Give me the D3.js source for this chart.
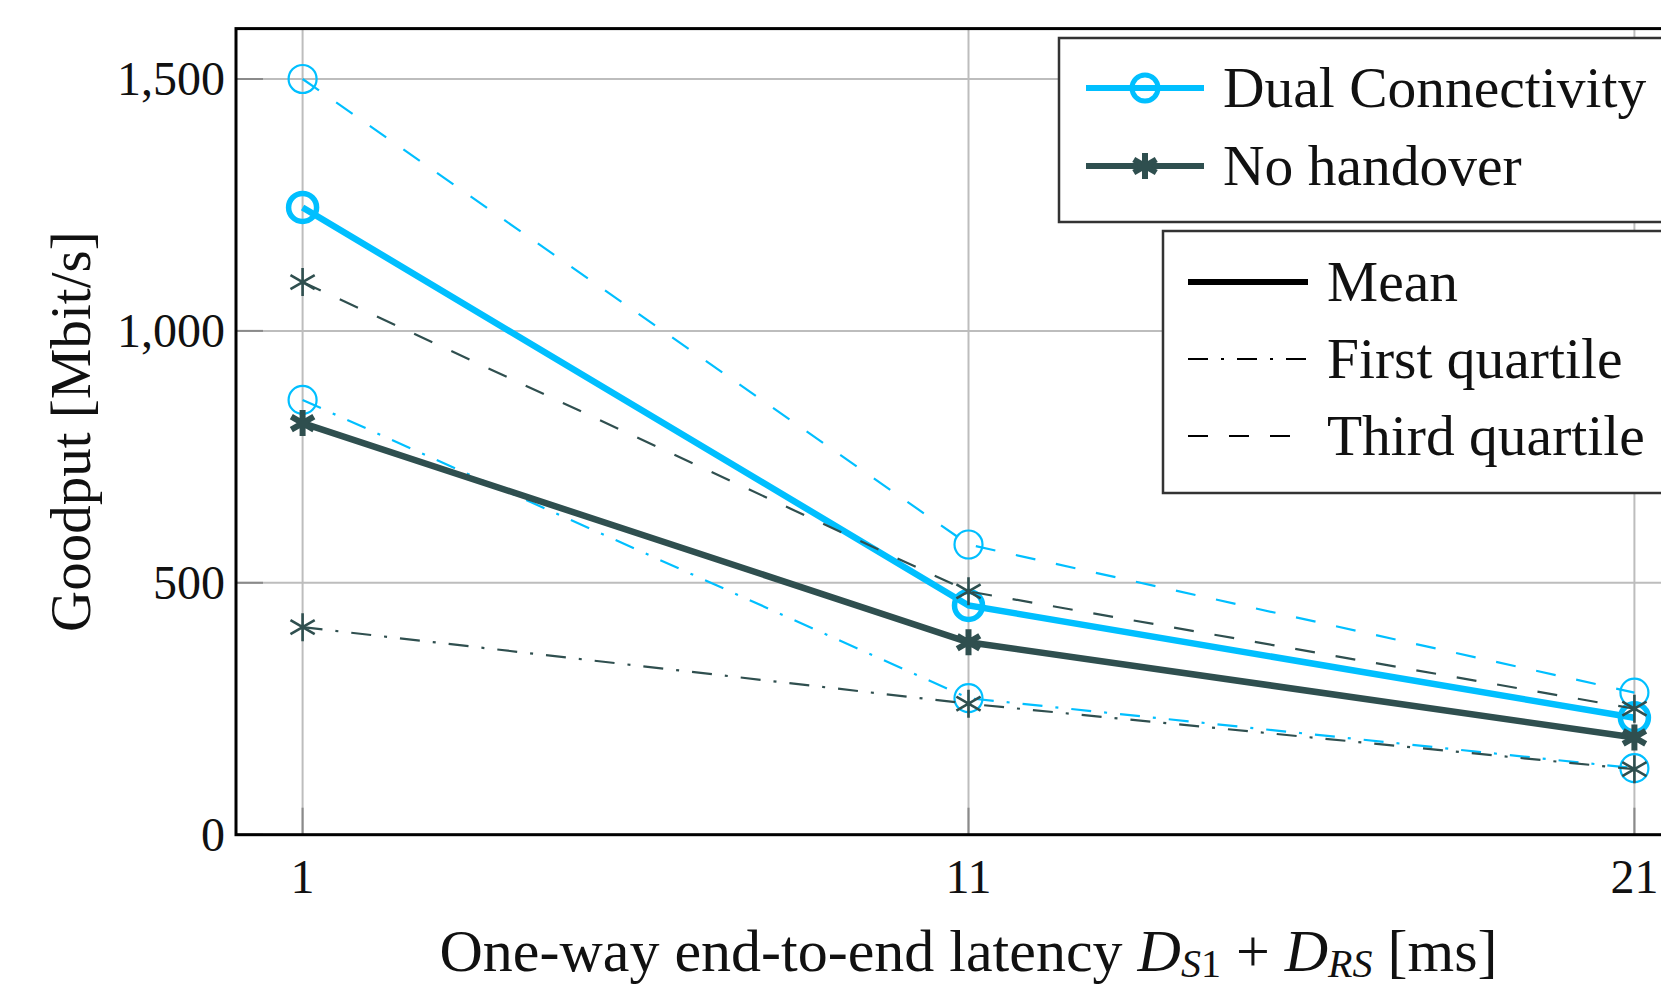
<!DOCTYPE html>
<html>
<head>
<meta charset="utf-8">
<script src="https://cdn.jsdelivr.net/npm/d3@7"></script>
<style>
  body { margin: 0; background: #fff; }
  svg { display: block; }
  text { font-family: "Liberation Serif", "DejaVu Serif", serif; fill: #111; }
</style>
</head>
<body>
<svg id="chart" width="1661" height="990"></svg>
<script>
// data
const latency = [1, 11, 21];
const dcMean = [1245, 455, 232];
const dcQ1 = [863, 271, 132];
const dcQ3 = [1500, 576, 282];
const nhMean = [817, 382, 193];
const nhQ1 = [412, 260, 130];
const nhQ3 = [1097, 483, 250];
const yTicks = [0, 500, 1000, 1500];
const xTicks = [1, 11, 21];

const cyan = "#00BFFF", slate = "#2F4F4F";

const svg = d3.select("#chart");

var x = d3.scaleLinear().domain([0, 22]).range([236, 1701]);
var y = d3.scaleLinear().domain([0, 1600]).range([834.7, 28.6]);

// grid
svg.append("g").selectAll("line")
    .data(xTicks).enter().append("line")
    .attr("x1", d => x(d)).attr("x2", d => x(d))
    .attr("y1", y(0)).attr("y2", y(1600))
    .attr("stroke", "#bdbdbd").attr("stroke-width", 2);
svg.append("g").selectAll("line")
    .data(yTicks).enter().append("line")
    .attr("x1", x(0)).attr("x2", x(22))
    .attr("y1", d => y(d)).attr("y2", d => y(d))
    .attr("stroke", "#bdbdbd").attr("stroke-width", 2);

// inner tick marks
svg.append("g").selectAll("line")
    .data(yTicks).enter().append("line")
    .attr("x1", x(0)).attr("x2", x(0) + 27)
    .attr("y1", d => y(d)).attr("y2", d => y(d))
    .attr("stroke", "#8a8a8a").attr("stroke-width", 2);
svg.append("g").selectAll("line")
    .data(xTicks).enter().append("line")
    .attr("x1", d => x(d)).attr("x2", d => x(d))
    .attr("y1", y(0)).attr("y2", y(0) - 27)
    .attr("stroke", "#8a8a8a").attr("stroke-width", 2);

// tick labels
svg.append("g").selectAll("text")
    .data(yTicks).enter().append("text")
    .attr("x", x(0) - 11).attr("y", d => y(d) + 16)
    .attr("text-anchor", "end")
    .style("font-size", "48px")
    .text(d3.format(","));
svg.append("g").selectAll("text")
    .data(xTicks).enter().append("text")
    .attr("x", d => x(d)).attr("y", y(0) + 58)
    .attr("text-anchor", "middle")
    .style("font-size", "48px")
    .text(d => d);

// frame
svg.append("rect")
    .attr("x", x(0)).attr("y", y(1600))
    .attr("width", x(22) - x(0)).attr("height", y(0) - y(1600))
    .attr("fill", "none").attr("stroke", "#000").attr("stroke-width", 3);

// marker shapes
function asterisk(r) {
    var c = r * Math.cos(Math.PI / 6), s = r * Math.sin(Math.PI / 6);
    return `M0,${-r}L0,${r}M${-c},${-s}L${c},${s}M${-c},${s}L${c},${-s}`;
}

var line = d3.line().x((d, i) => x(latency[i])).y(d => y(d));

var series = [
    { vals: dcMean, color: cyan, w: 6.5, dash: null, mark: "circle", mw: 5.5, r: 14 },
    { vals: dcQ1, color: cyan, w: 2.2, dash: "20,13,3,13", mark: "circle", mw: 2.2, r: 14 },
    { vals: dcQ3, color: cyan, w: 2.2, dash: "20,21", mark: "circle", mw: 2.2, r: 14 },
    { vals: nhMean, color: slate, w: 6.5, dash: null, mark: "star", mw: 6, r: 13 },
    { vals: nhQ1, color: slate, w: 2.2, dash: "20,13,3,13", mark: "star", mw: 2.6, r: 14 },
    { vals: nhQ3, color: slate, w: 2.2, dash: "20,21", mark: "star", mw: 2.6, r: 14 }
];

series.forEach(s => {
    var g = svg.append("g");
    g.append("path")
        .attr("d", line(s.vals))
        .attr("fill", "none")
        .attr("stroke", s.color)
        .attr("stroke-width", s.w)
        .attr("stroke-dasharray", s.dash);
    var pts = g.selectAll("g.pt").data(s.vals).enter().append("g")
        .attr("transform", (d, i) => `translate(${x(latency[i])},${y(d)})`);
    if (s.mark === "circle") {
        pts.append("circle").attr("r", s.r)
            .attr("fill", "none").attr("stroke", s.color).attr("stroke-width", s.mw);
    } else {
        pts.append("path").attr("d", asterisk(s.r))
            .attr("fill", "none").attr("stroke", s.color).attr("stroke-width", s.mw);
    }
});

// legend 1: series
var leg1 = svg.append("g");
leg1.append("rect")
    .attr("x", 1059).attr("y", 38).attr("width", 700).attr("height", 184)
    .attr("fill", "#fff").attr("stroke", "#333").attr("stroke-width", 2.5);
var seriesNames = ["Dual Connectivity", "No handover"];
var leg1Rows = leg1.selectAll("g").data(seriesNames).enter().append("g")
    .attr("transform", (d, i) => `translate(0,${88 + i * 78})`);
leg1Rows.append("line")
    .attr("x1", 1086).attr("x2", 1204)
    .attr("stroke", (d, i) => i ? slate : cyan).attr("stroke-width", 6);
leg1Rows.filter((d, i) => i === 0).append("circle")
    .attr("cx", 1145).attr("r", 13)
    .attr("fill", "none").attr("stroke", cyan).attr("stroke-width", 5);
leg1Rows.filter((d, i) => i === 1).append("path")
    .attr("transform", "translate(1145,0)")
    .attr("d", asterisk(13))
    .attr("fill", "none").attr("stroke", slate).attr("stroke-width", 6);
leg1Rows.append("text")
    .attr("x", 1223).attr("y", 19)
    .style("font-size", "57.5px")
    .text(d => d);

// legend 2: statistic
var leg2 = svg.append("g");
leg2.append("rect")
    .attr("x", 1163).attr("y", 231).attr("width", 700).attr("height", 262)
    .attr("fill", "#fff").attr("stroke", "#333").attr("stroke-width", 2.5);
var statNames = ["Mean", "First quartile", "Third quartile"];
var statDash = [null, "20,13,3,13", "20,21"];
var leg2Rows = leg2.selectAll("g").data(statNames).enter().append("g")
    .attr("transform", (d, i) => `translate(0,${282 + i * 77})`);
leg2Rows.append("line")
    .attr("x1", 1188).attr("x2", 1308)
    .attr("stroke", "#000")
    .attr("stroke-width", (d, i) => i ? 2.2 : 6)
    .attr("stroke-dasharray", (d, i) => statDash[i]);
leg2Rows.append("text")
    .attr("x", 1327).attr("y", 19)
    .style("font-size", "57.5px")
    .text(d => d);

// axis labels
svg.append("text")
    .attr("transform", `translate(90,${(y(0) + y(1600)) / 2}) rotate(-90)`)
    .attr("text-anchor", "middle")
    .style("font-size", "57px")
    .text("Goodput [Mbit/s]");

var xl = svg.append("text")
    .attr("x", (x(1) + x(21)) / 2).attr("y", 971)
    .attr("text-anchor", "middle")
    .style("font-size", "60px");
xl.append("tspan").text("One-way end-to-end latency ");
xl.append("tspan").style("font-style", "italic").text("D");
xl.append("tspan").attr("dy", 6).style("font-size", "40px").style("font-style", "italic").text("S");
xl.append("tspan").style("font-size", "40px").text("1");
xl.append("tspan").attr("dy", -6).text(" + ");
xl.append("tspan").style("font-style", "italic").text("D");
xl.append("tspan").attr("dy", 6).style("font-size", "40px").style("font-style", "italic").text("RS");
xl.append("tspan").attr("dy", -6).text(" [ms]");
</script>
</body>
</html>
